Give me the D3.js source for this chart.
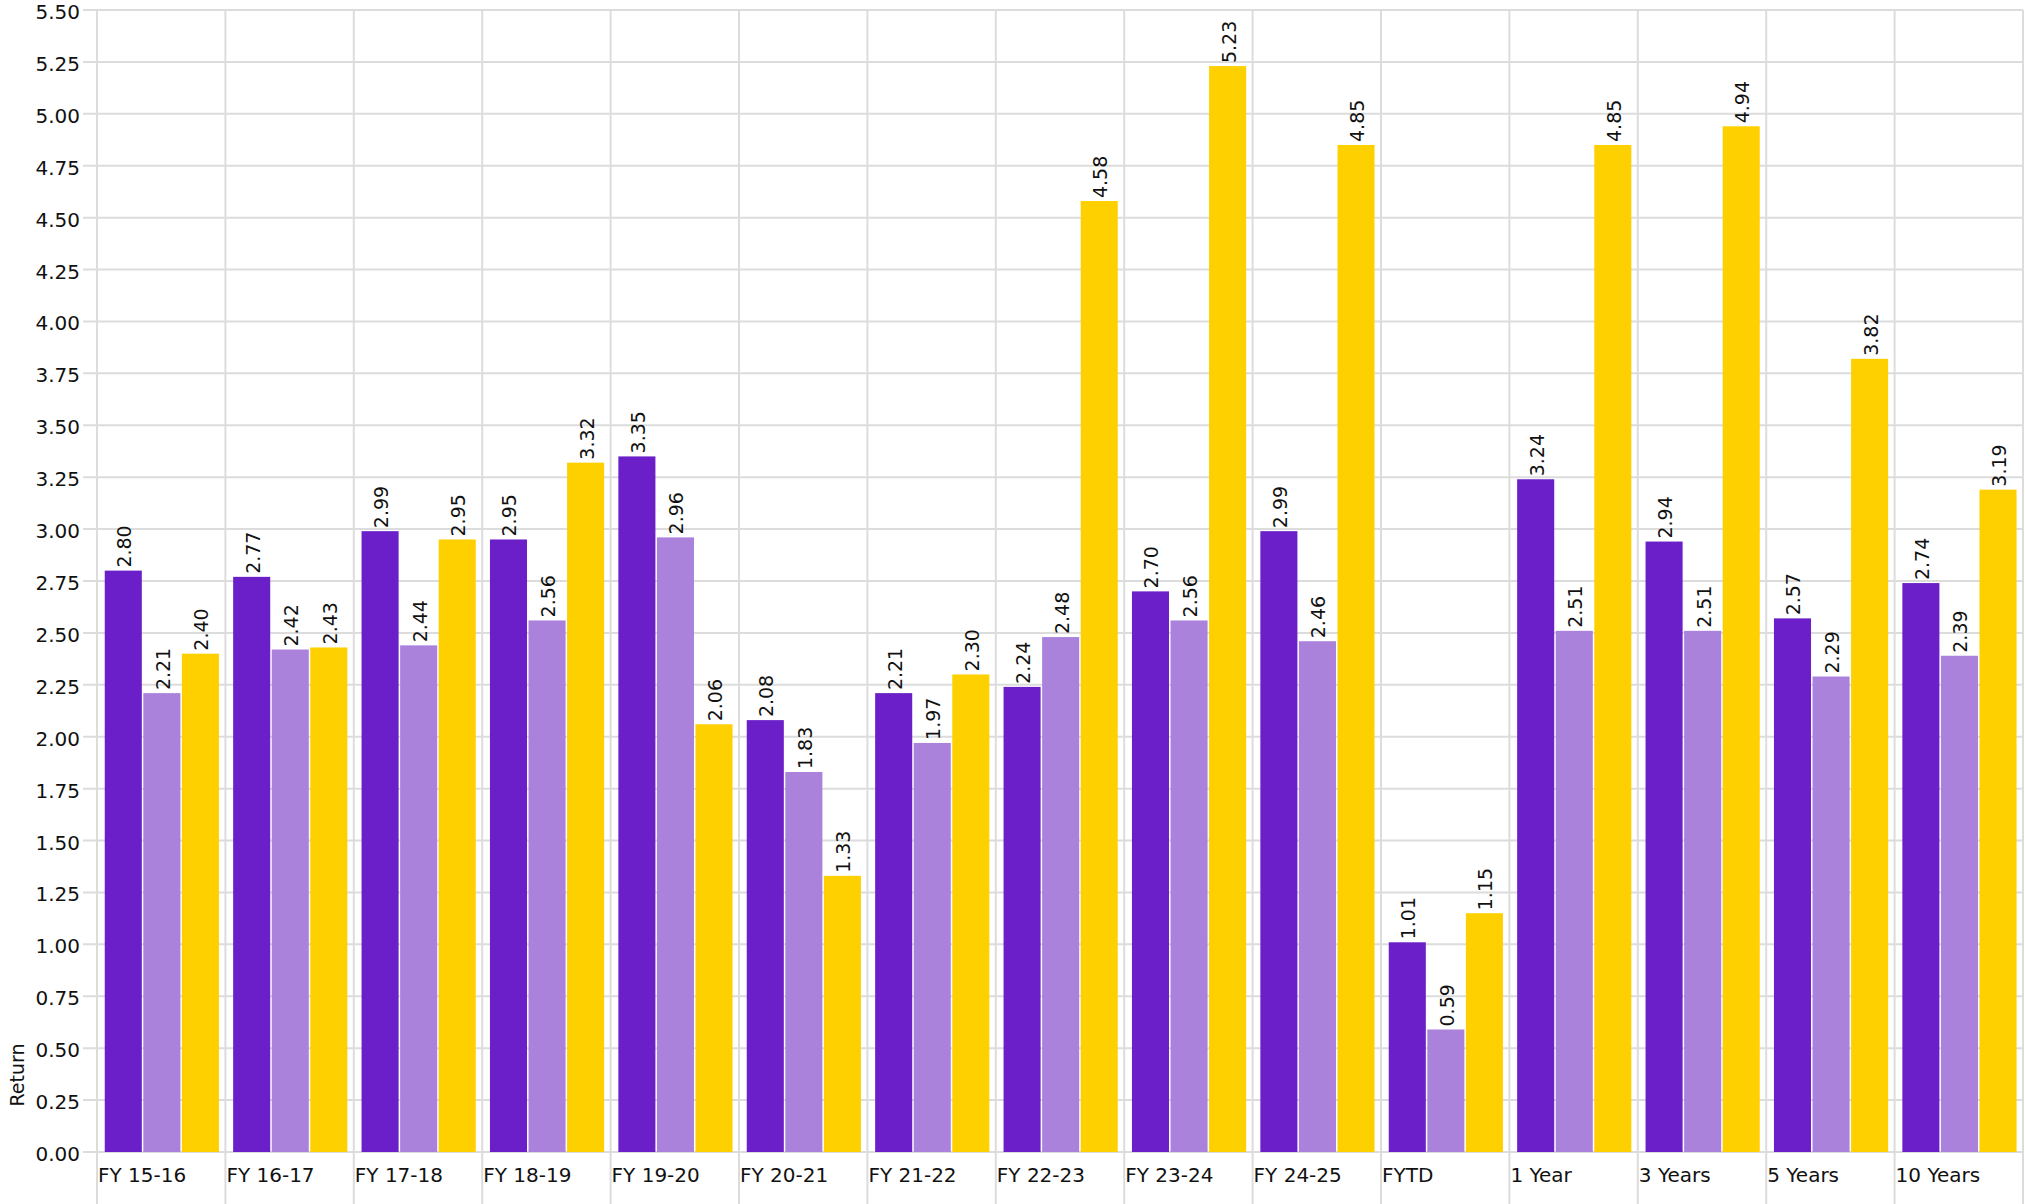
<!DOCTYPE html>
<html>
<head>
<meta charset="utf-8">
<script src="https://cdn.jsdelivr.net/npm/d3@7"></script>
<style>
  html, body { margin: 0; padding: 0; background: #ffffff; }
  svg { display: block; font-family: "DejaVu Sans", Verdana, sans-serif; }
</style>
</head>
<body>
<svg id="chart" width="2025" height="1204"></svg>
<script>
// Return by period, three series
const categories = ["FY 15-16", "FY 16-17", "FY 17-18", "FY 18-19", "FY 19-20", "FY 20-21",
  "FY 21-22", "FY 22-23", "FY 23-24", "FY 24-25", "FYTD", "1 Year", "3 Years", "5 Years", "10 Years"];
const seriesNames = ["Fund", "Benchmark", "Peer"];
const fundValues = [2.80, 2.77, 2.99, 2.95, 3.35, 2.08, 2.21, 2.24, 2.70, 2.99, 1.01, 3.24, 2.94, 2.57, 2.74];
const benchmarkValues = [2.21, 2.42, 2.44, 2.56, 2.96, 1.83, 1.97, 2.48, 2.56, 2.46, 0.59, 2.51, 2.51, 2.29, 2.39];
const peerValues = [2.40, 2.43, 2.95, 3.32, 2.06, 1.33, 2.30, 4.58, 5.23, 4.85, 1.15, 4.85, 4.94, 3.82, 3.19];
const yTicks = [0, 0.25, 0.5, 0.75, 1, 1.25, 1.5, 1.75, 2, 2.25, 2.5, 2.75, 3, 3.25, 3.5, 3.75, 4, 4.25, 4.5, 4.75, 5, 5.25, 5.5];
const colors = ["#6b1fc8", "#aa82dc", "#ffd000"];

const seriesValues = [fundValues, benchmarkValues, peerValues];
const rows = categories.map((c, i) => ({
  category: c,
  values: seriesNames.map((s, j) => ({ series: s, value: seriesValues[j][i], idx: j }))
}));

const svg = d3.select("#chart");
const W = 2025, H = 1204;
const plotLeft = 97, plotRight = 2023, plotTop = 10, plotBottom = 1152;

const x0 = d3.scaleBand().domain(categories).range([plotLeft, plotRight]).padding(0);
const y = d3.scaleLinear().domain([0, 5.5]).range([plotBottom, plotTop]);
const groupStart = 7, groupWidth = 115.7;
const x1 = d3.scaleBand().domain(seriesNames).range([groupStart, groupStart + groupWidth]).padding(0);

const grid = svg.append("g");
// horizontal grid lines with short tick stubs on the left
grid.selectAll("line.h").data(yTicks).join("line")
  .attr("class", "h")
  .attr("x1", 83).attr("x2", plotRight)
  .attr("y1", d => y(d)).attr("y2", d => y(d))
  .attr("stroke", "#dcdcdc").attr("stroke-width", 2);
// vertical separators between categories, running past the axis to the bottom
const vx = categories.map(c => x0(c)).concat([plotRight]);
grid.selectAll("line.v").data(vx).join("line")
  .attr("class", "v")
  .attr("x1", d => d).attr("x2", d => d)
  .attr("y1", plotTop).attr("y2", H)
  .attr("stroke", "#dcdcdc").attr("stroke-width", 2);

// y tick labels
svg.append("g").selectAll("text").data(yTicks).join("text")
  .attr("x", 80).attr("y", d => y(d) + 2)
  .attr("text-anchor", "end").attr("dominant-baseline", "central")
  .attr("font-size", 20).attr("fill", "#111")
  .text(d => d3.format(".2f")(d));

// axis title
svg.append("text")
  .attr("transform", `translate(17,1075) rotate(-90)`)
  .attr("text-anchor", "middle").attr("dominant-baseline", "central")
  .attr("font-size", 19).attr("fill", "#111")
  .text("Return");

// bars
const groups = svg.append("g").selectAll("g").data(rows).join("g")
  .attr("transform", d => `translate(${x0(d.category)},0)`);
groups.selectAll("rect").data(d => d.values).join("rect")
  .attr("x", d => x1(d.series) + 0.75)
  .attr("width", x1.bandwidth() - 1.5)
  .attr("y", d => y(d.value))
  .attr("height", d => y(0) - y(d.value))
  .attr("fill", d => colors[d.idx]);

// value labels, rotated above each bar
groups.selectAll("text").data(d => d.values).join("text")
  .attr("transform", d => `translate(${x1(d.series) + x1.bandwidth() / 2 + 1},${y(d.value) - 3}) rotate(-90)`)
  .attr("text-anchor", "start").attr("dominant-baseline", "central")
  .attr("font-size", 19).attr("fill", "#111")
  .text(d => d3.format(".2f")(d.value));

// category labels
svg.append("g").selectAll("text").data(categories).join("text")
  .attr("x", d => x0(d) + 1).attr("y", 1182)
  .attr("text-anchor", "start")
  .attr("font-size", 20).attr("fill", "#111")
  .text(d => d);
</script>
</body>
</html>
